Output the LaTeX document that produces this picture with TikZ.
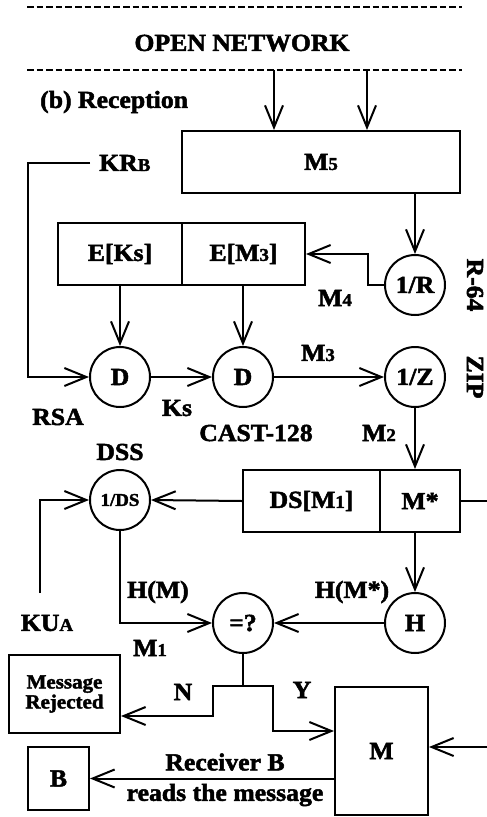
\documentclass[tikz,border=0pt]{standalone}
\usepackage{fontspec}
\setmainfont{Liberation Serif}[FakeStretch=1.05, BoldFeatures={FakeBold=2}]
\usetikzlibrary{arrows.meta}
\newcommand\subx[1]{{\fontsize{18}{18}\selectfont #1}}
\tikzset{
  every node/.style={font=\fontsize{24.5}{26}\selectfont\bfseries, inner sep=0pt},
  ln/.style={line width=2pt},
  arr/.style={ln, -{Straight Barb[length=22pt,width=18pt,line width=2pt]}},
  circ/.style={circle, draw, line width=2pt, minimum size=60pt},
  bx/.style={rectangle, draw, line width=2pt, minimum height=62pt},
  dsh/.style={line width=2pt, dash pattern=on 6.5pt off 3.1pt},
  small/.style={font=\fontsize{18}{19}\selectfont\bfseries},
}
\begin{document}
\begin{tikzpicture}[x=1pt,y=-1pt]
\useasboundingbox (0,0) rectangle (487,817);
% network
\draw[dsh] (27,7) coordinate (d1a) -- (462,7) coordinate (d1b);
\draw[dsh] (27,70) coordinate (d2a) -- (462,70) coordinate (d2b);
\node (open) at (242,43) {OPEN NETWORK};
\node[anchor=west] (recep) at (40,102) {(b) Reception};
% boxes
\node[bx, minimum width=278pt] (M5) at (321,162) {M\subx{5}};
\node[bx, minimum width=124pt] (EKs) at (120,254) {E[Ks]};
\node[bx, minimum width=123pt] (EM3) at (243.5,254) {E[M\subx{3}]};
\node[bx, minimum width=137pt] (DSM) at (311.5,501) {DS[M\subx{1}]};
\node[bx, minimum width=80pt] (Mstar) at (420,501) {M*};
\node[bx, minimum width=111pt, minimum height=78pt, font=\fontsize{20}{21}\selectfont\bfseries, align=center] (MR) at (64.5,694) {Message\\[-1pt]Rejected};
\node[bx, minimum width=93pt, minimum height=128pt] (Mb) at (381.5,751) {M};
\node[bx, minimum width=61pt, minimum height=63pt] (B) at (58.5,778.5) {B};
% circles
\node[circ] (R) at (415,285) {1/R};
\node[circ] (D1) at (120,377) {D};
\node[circ] (D2) at (243,377) {D};
\node[circ] (Z) at (415,377) {1/Z};
\node[circ, small] (DS) at (120,500) {1/DS};
\node[circ] (EQ) at (243,623) {=?};
\node[circ] (H) at (415,623) {H};
% coordinates
\coordinate (n1) at (274,70);
\coordinate (n2) at (367,70);
\coordinate (kr) at (90,163);
\coordinate (ku) at (40,593);
\coordinate (j) at (243,686);
% connectors
\draw[arr] (n1) -- (n1 |- M5.north);
\draw[arr] (n2) -- (n2 |- M5.north);
\draw[arr] (kr) -- (28,163) |- (D1.west);
\draw[arr] (M5.south -| R) -- (R.north);
\draw[arr] (R.west) -- (368,285) |- (EM3.east);
\draw[arr] (EKs.south) -- (D1.north);
\draw[arr] (EM3.south -| D2) -- (D2.north);
\draw[arr] (D1) -- (D2);
\draw[arr] (D2) -- (Z);
\draw[arr] (Z) -- (Z |- Mstar.north);
\draw[arr] (DSM.west) -- (DS.east);
\draw[arr] (ku) |- (DS.west);
\draw[arr] (DS.south) |- (EQ.west);
\draw[arr] (Mstar.south -| H) -- (H.north);
\draw[arr] (H) -- (EQ);
\draw[ln] (EQ.south) -- (j);
\draw[arr] (j) -- (213,686) -- (213,716) -- (MR.east |- 0,716);
\draw[arr] (j) -- (273,686) -- (273,731) -- (Mb.west |- 0,731);
\draw[arr] (Mb.west |- B.east) -- (B.east);
\draw[arr] (Mstar.east) -- (500,501) -- (500,747) -- (Mb.east |- 0,747);
% labels
\node[anchor=west] (krb) at (99,163) {KR\subx{B}};
\node (m4) at (335,298) {M\subx{4}};
\node[rotate=-90] (r64) at (475,285) {R-64};
\node[rotate=-90] (zip) at (475,377) {ZIP};
\node (m3) at (318,353) {M\subx{3}};
\node (rsa) at (58,417) {RSA};
\node (ks) at (177,408) {Ks};
\node (cast) at (256,433) {CAST-128};
\node (m2) at (379,433) {M\subx{2}};
\node (dss) at (120,452) {DSS};
\node (hm) at (158,592) {H(M)};
\node (hms) at (352,592) {H(M*)};
\node (kua) at (47,623) {KU\subx{A}};
\node (m1) at (150,648) {M\subx{1}};
\node (nn) at (183,692) {N};
\node (yy) at (302,690) {Y};
\node (rb) at (225,762) {Receiver B};
\node (rtm) at (225,795) {reads the message};
\end{tikzpicture}
\end{document}
